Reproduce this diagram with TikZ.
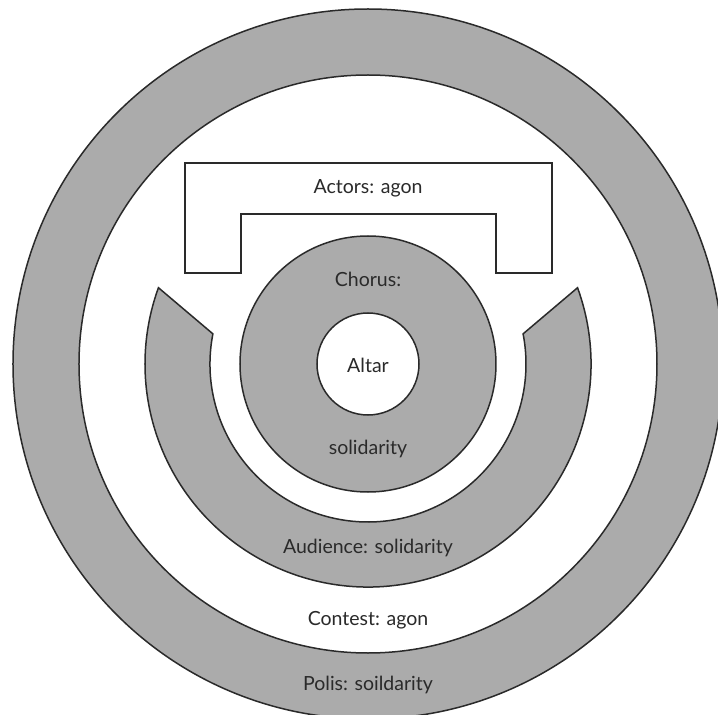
\documentclass[tikz,border=0pt]{standalone}
\usepackage{fontspec}
\setmainfont{Lato}
\definecolor{ringgray}{HTML}{ABABAB}
\definecolor{inkgray}{HTML}{2A2A2A}
\tikzset{
  ring/.style={draw=inkgray, line width=1.5pt, fill=ringgray},
  hole/.style={draw=inkgray, line width=1.5pt, fill=white},
  lbl/.style={text=inkgray, font=\fontsize{19.5}{22}\selectfont}
}

\begin{document}
\begin{tikzpicture}[x=1pt,y=1pt]

    \path[use as bounding box, fill=white] (-368,-351) rectangle (350,364);
    \clip (-368,-351) rectangle (350,364);

    \coordinate (c) at (0,0);

    % polis and contest
    \draw[ring] (c) circle (355);
    \draw[hole] (c) circle (289);

    % audience, open at the top
    \draw[ring] (20:223) arc (20:-200:223) -- (169:158) arc (-191:11:158) -- cycle;

    % actors
    \coordinate (a1) at (-183,201);
    \coordinate (a2) at (184,201);
    \coordinate (a3) at (184,91);
    \coordinate (a4) at (128,91);
    \coordinate (a5) at (128,150);
    \coordinate (a6) at (-127,150);
    \coordinate (a7) at (-127,91);
    \coordinate (a8) at (-183,91);
    \draw[hole] (a1)--(a2)--(a3)--(a4)--(a5)--(a6)--(a7)--(a8)--cycle;

    % chorus and altar
    \draw[ring] (c) circle (128);
    \draw[hole] (c) circle (51);

    \node[lbl] (actors) at (0,176) {Actors: agon};
    \node[lbl] (chorus) at (0,85) {Chorus:};
    \node[lbl] (altar) at (0,-1) {Altar};
    \node[lbl] (chorussol) at (0,-85) {solidarity};
    \node[lbl] (audience) at (0,-184) {Audience: solidarity};
    \node[lbl] (contest) at (0,-256) {Contest: agon};
    \node[lbl] (polis) at (0,-321) {Polis: soildarity};

  \end{tikzpicture}
\end{document}
